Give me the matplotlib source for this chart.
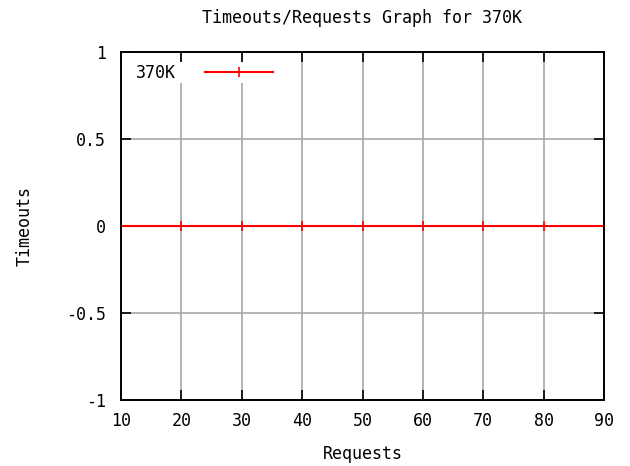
import matplotlib
matplotlib.use("Agg")
import matplotlib.pyplot as plt
from matplotlib.ticker import FixedLocator, FixedFormatter

# --- data ---
requests = [10, 20, 30, 40, 50, 60, 70, 80, 90]
timeouts = [0, 0, 0, 0, 0, 0, 0, 0, 0]

x_ticks = [10, 20, 30, 40, 50, 60, 70, 80, 90]
y_ticks = [-1, -0.5, 0, 0.5, 1]
y_tick_labels = ["-1", "-0.5", "0", "0.5", "1"]

plt.rcParams["font.family"] = ["DejaVu Sans Mono"]
plt.rcParams["font.size"] = 12

fig = plt.figure(figsize=(6.30, 4.66), dpi=100)
ax = fig.add_axes([121 / 630, 1 - 400 / 466, (604 - 121) / 630, (400 - 52) / 466])

ax.plot(requests, timeouts, color="#ff0000", lw=1.5, marker="|",
        markersize=6.5, markeredgewidth=1.2, label="370K", zorder=2.2)

ax.set_xlim(10, 90)
ax.set_ylim(-1, 1)
ax.xaxis.set_major_locator(FixedLocator(x_ticks))
ax.yaxis.set_major_locator(FixedLocator(y_ticks))
ax.yaxis.set_major_formatter(FixedFormatter(y_tick_labels))

ax.grid(True, color="#a8a8a8", lw=1.2, linestyle="-")
ax.set_axisbelow(True)
ax.tick_params(direction="in", length=7, width=1.2, top=True, right=True,
               labelsize=12, colors="black")
ax.tick_params(axis="x", pad=9)
ax.tick_params(axis="y", pad=11)
for sp in ax.spines.values():
    sp.set_linewidth(1.4)
    sp.set_color("black")

ax.set_title("Timeouts/Requests Graph for 370K", fontsize=12, pad=21)
ax.set_xlabel("Requests", fontsize=12)
ax.set_ylabel("Timeouts", fontsize=12)
ax.xaxis.set_label_coords(0.5, (400 - 445) / 348)
ax.yaxis.set_label_coords((34 - 121) / 483, 0.5)

leg = ax.legend(loc="upper left", bbox_to_anchor=((134 - 121) / 483, (400 - 62) / 348),
                frameon=True, markerfirst=False, borderaxespad=0, borderpad=0.1,
                handlelength=4.1, handletextpad=1.75, fontsize=12)
leg.get_frame().set_edgecolor("none")
leg.get_frame().set_facecolor("white")
leg.get_frame().set_alpha(1.0)
leg.get_frame().set_boxstyle("square", pad=0)

fig.savefig("out.png", dpi=100)
